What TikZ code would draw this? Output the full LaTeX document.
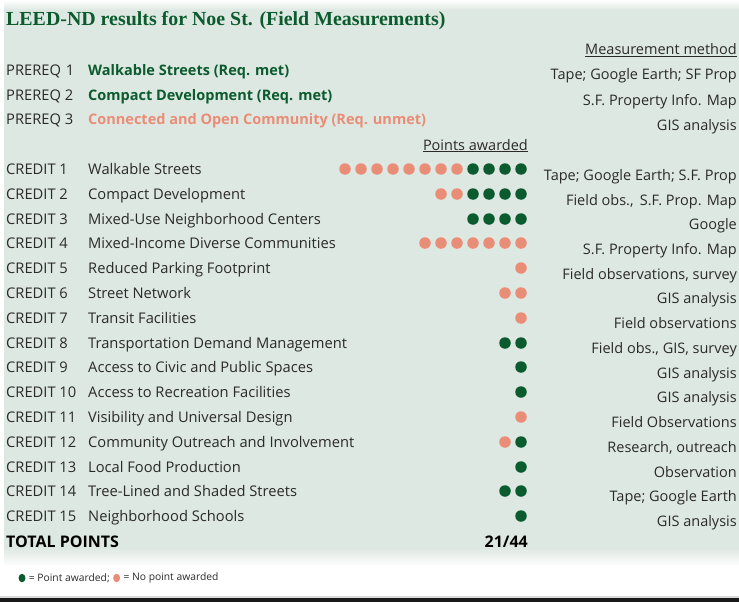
\documentclass[tikz,border=0pt]{standalone}
\usepackage{fontspec}
\setmainfont{Open Sans}
\newfontfamily\titlefont{Liberation Serif}
\usetikzlibrary{positioning,shapes.geometric}
\definecolor{leafgreen}{HTML}{0B5B2E}
\definecolor{salmon}{HTML}{E98D77}
\definecolor{panelgray}{HTML}{DEE8E2}
\definecolor{inkgray}{HTML}{2A2A2A}

\begin{document}
\begin{tikzpicture}[x=1pt, y=-1pt,
    rowtext/.style={anchor=base west, inner sep=0pt, text=inkgray, font=\fontsize{14.7}{16}\selectfont},
    methodtext/.style={anchor=base east, inner sep=0pt, text=inkgray, font=\fontsize{14.5}{16}\selectfont},
    greendot/.style={circle, fill=leafgreen, minimum size=11.5pt, inner sep=0pt},
    reddot/.style={circle, fill=salmon, minimum size=11.5pt, inner sep=0pt},
    keytext/.style={inner sep=0pt, text=inkgray, font=\fontsize{10.3}{11}\selectfont}]
                        \useasboundingbox (0,0) rectangle (739,602);
                        \shade[top color=white, bottom color=panelgray] (4,0) rectangle (739,10);
                        \fill[panelgray] (4,10) rectangle (739,548);
                        \shade[top color=panelgray, bottom color=white] (4,548) rectangle (739,566);
                        \fill[black!15] (0,596) rectangle (739,598);
                        \fill[black!90] (0,598) rectangle (739,602);

                        \node[anchor=base west, inner sep=0pt, text=leafgreen, font=\titlefont\bfseries\fontsize{19.9}{21}\selectfont] (title) at (6,26) {LEED-ND results for Noe St. (Field Measurements)};
                        \node[methodtext] (methodhead) at (737,55) {\underline{Measurement method}};

                        \node[rowtext] (prereq1) at (6,76) {PREREQ\,\,1};
                        \node[rowtext] (prereq2) at (6,100) {PREREQ 2};
                        \node[rowtext] (prereq3) at (6,124) {PREREQ 3};
                        \node[rowtext, text=leafgreen, font=\bfseries\fontsize{14.5}{16}\selectfont] (prereqname1) at (88,76) {Walkable Streets (Req. met)};
                        \node[rowtext, text=leafgreen, font=\bfseries\fontsize{14.5}{16}\selectfont] (prereqname2) at (88,100) {Compact Development (Req. met)};
                        \node[rowtext, text=salmon, font=\bfseries\fontsize{14.5}{16}\selectfont] (prereqname3) at (88,124) {Connected and Open Community (Req. unmet)};
                        \node[methodtext] (prereqhow1) at (737,80) {Tape; Google Earth; SF Prop};
                        \node[methodtext] (prereqhow2) at (737,105) {S.F. Property Info. Map};
                        \node[methodtext] (prereqhow3) at (737,130) {GIS analysis};

                        \node[methodtext] (pointshead) at (528,150) {\underline{Points awarded}};

                        \node[rowtext] (credit1) at (6,174) {CREDIT 1};
                        \node[rowtext] (credit2) at (6,199) {CREDIT 2};
                        \node[rowtext] (credit3) at (6,224) {CREDIT 3};
                        \node[rowtext] (credit4) at (6,248) {CREDIT 4};
                        \node[rowtext] (credit5) at (6,273) {CREDIT 5};
                        \node[rowtext] (credit6) at (6,298) {CREDIT 6};
                        \node[rowtext] (credit7) at (6,323) {CREDIT 7};
                        \node[rowtext] (credit8) at (6,348) {CREDIT 8};
                        \node[rowtext] (credit9) at (6,372) {CREDIT 9};
                        \node[rowtext] (credit10) at (6,397) {CREDIT 10};
                        \node[rowtext] (credit11) at (6,422) {CREDIT 11};
                        \node[rowtext] (credit12) at (6,447) {CREDIT 12};
                        \node[rowtext] (credit13) at (6,472) {CREDIT 13};
                        \node[rowtext] (credit14) at (6,496) {CREDIT 14};
                        \node[rowtext] (credit15) at (6,521) {CREDIT 15};

                        \node[rowtext] (name1) at (88,174) {Walkable Streets};
                        \node[rowtext] (name2) at (88,199) {Compact Development};
                        \node[rowtext] (name3) at (88,224) {Mixed-Use Neighborhood Centers};
                        \node[rowtext] (name4) at (88,248) {Mixed-Income Diverse Communities};
                        \node[rowtext] (name5) at (88,273) {Reduced Parking Footprint};
                        \node[rowtext] (name6) at (88,298) {Street Network};
                        \node[rowtext] (name7) at (88,323) {Transit Facilities};
                        \node[rowtext] (name8) at (88,348) {Transportation Demand Management};
                        \node[rowtext] (name9) at (88,372) {Access to Civic and Public Spaces};
                        \node[rowtext] (name10) at (88,397) {Access to Recreation Facilities};
                        \node[rowtext] (name11) at (88,422) {Visibility and Universal Design};
                        \node[rowtext] (name12) at (88,447) {Community Outreach and Involvement};
                        \node[rowtext] (name13) at (88,472) {Local Food Production};
                        \node[rowtext] (name14) at (88,496) {Tree-Lined and Shaded Streets};
                        \node[rowtext] (name15) at (88,521) {Neighborhood Schools};

                        \node[methodtext] (how1) at (737,180) {Tape; Google Earth; S.F. Prop};
                        \node[methodtext] (how2) at (737,205) {Field obs.,\, S.F. Prop. Map};
                        \node[methodtext] (how3) at (737,229) {Google};
                        \node[methodtext] (how4) at (737,254) {S.F. Property Info. Map};
                        \node[methodtext] (how5) at (737,279) {Field observations, survey};
                        \node[methodtext] (how6) at (737,303) {GIS analysis};
                        \node[methodtext] (how7) at (737,328) {Field observations};
                        \node[methodtext] (how8) at (737,353) {Field obs., GIS, survey};
                        \node[methodtext] (how9) at (737,378) {GIS analysis};
                        \node[methodtext] (how10) at (737,402) {GIS analysis};
                        \node[methodtext] (how11) at (737,427) {Field Observations};
                        \node[methodtext] (how12) at (737,452) {Research, outreach};
                        \node[methodtext] (how13) at (737,477) {Observation};
                        \node[methodtext] (how14) at (737,501) {Tape; Google Earth};
                        \node[methodtext] (how15) at (737,526) {GIS analysis};

                        % points, counted from the right
                        \node[greendot] (dot1a) at (521,169) {}; \node[greendot] (dot1b) at (505,169) {};
                        \node[greendot] (dot1c) at (489,169) {}; \node[greendot] (dot1d) at (473,169) {};
                        \node[reddot] (dot1e) at (457,169) {}; \node[reddot] (dot1f) at (441,169) {};
                        \node[reddot] (dot1g) at (425,169) {}; \node[reddot] (dot1h) at (409,169) {};
                        \node[reddot] (dot1i) at (393,169) {}; \node[reddot] (dot1j) at (377,169) {};
                        \node[reddot] (dot1k) at (361,169) {}; \node[reddot] (dot1l) at (345,169) {};

                        \node[greendot] (dot2a) at (521,194) {}; \node[greendot] (dot2b) at (505,194) {};
                        \node[greendot] (dot2c) at (489,194) {}; \node[greendot] (dot2d) at (473,194) {};
                        \node[reddot] (dot2e) at (457,194) {}; \node[reddot] (dot2f) at (441,194) {};

                        \node[greendot] (dot3a) at (521,219) {}; \node[greendot] (dot3b) at (505,219) {};
                        \node[greendot] (dot3c) at (489,219) {}; \node[greendot] (dot3d) at (473,219) {};

                        \node[reddot] (dot4a) at (521,243) {}; \node[reddot] (dot4b) at (505,243) {};
                        \node[reddot] (dot4c) at (489,243) {}; \node[reddot] (dot4d) at (473,243) {};
                        \node[reddot] (dot4e) at (457,243) {}; \node[reddot] (dot4f) at (441,243) {};
                        \node[reddot] (dot4g) at (425,243) {};

                        \node[reddot] (dot5a) at (521,268) {};
                        \node[reddot] (dot6a) at (521,293) {}; \node[reddot] (dot6b) at (505,293) {};
                        \node[reddot] (dot7a) at (521,318) {};
                        \node[greendot] (dot8a) at (521,343) {}; \node[greendot] (dot8b) at (505,343) {};
                        \node[greendot] (dot9a) at (521,367) {};
                        \node[greendot] (dot10a) at (521,392) {};
                        \node[reddot] (dot11a) at (521,417) {};
                        \node[greendot] (dot12a) at (521,442) {}; \node[reddot] (dot12b) at (505,442) {};
                        \node[greendot] (dot13a) at (521,467) {};
                        \node[greendot] (dot14a) at (521,491) {}; \node[greendot] (dot14b) at (505,491) {};
                        \node[greendot] (dot15a) at (521,516) {};

                        \node[rowtext, text=black, font=\bfseries\fontsize{16}{18}\selectfont] (total) at (6,547) {TOTAL POINTS};
                        \node[methodtext, text=black, font=\bfseries\fontsize{16}{18}\selectfont] (score) at (528,547) {21/44};

                        % key
                        \node[greendot, ellipse, minimum width=7pt, minimum height=8.5pt] (keyyes) at (22,578) {};
                        \node[keytext, right=3pt of keyyes] (keyyestext) {= Point awarded;};
                        \node[reddot, ellipse, minimum width=7pt, minimum height=8.5pt, right=3pt of keyyestext] (keyno) {};
                        \node[keytext, right=3pt of keyno] (keynotext) {= No point awarded};

                    \end{tikzpicture}
\end{document}
